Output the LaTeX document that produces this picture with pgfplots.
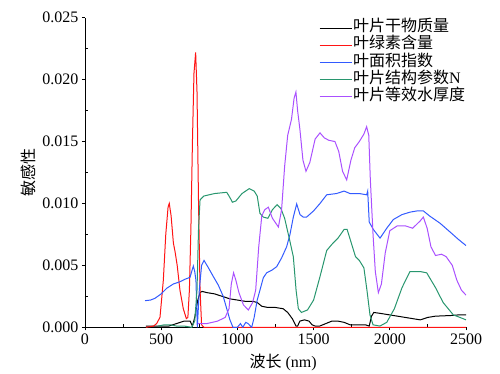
\documentclass[border=0pt]{standalone}
\usepackage{fontspec}
\setmainfont{Liberation Serif}
\newfontfamily\cjk{Noto Sans CJK SC}
\usepackage{pgfplots}
\pgfplotsset{compat=1.18}
\definecolor{cblue}{RGB}{50,90,255}
\definecolor{cgreen}{RGB}{40,150,110}
\definecolor{cpurple}{RGB}{170,80,255}
\definecolor{cred}{RGB}{255,20,20}
\begin{document}
\begin{tikzpicture}
\useasboundingbox (-85bp,-46.7bp) rectangle (415bp,327.3bp);
\begin{axis}[
  scale only axis, width=381bp, height=309.6bp,
  at={(0,0)}, anchor=south west,
  xmin=0, xmax=2500, ymin=0, ymax=0.025,
  axis x line*=bottom, axis y line*=left,
  axis line style={line width=0.9bp},
  xtick={0,500,1000,1500,2000,2500},
  ytick={0,0.005,0.01,0.015,0.02,0.025},
  extra x ticks={250,750,1250,1750,2250},
  extra y ticks={0.0025,0.0075,0.0125,0.0175,0.0225},
  extra x tick labels={}, extra y tick labels={},
  extra tick style={tick align=inside, major tick length=3.5bp},
  tick align=outside, major tick length=3bp,
  tick style={line width=0.9bp, black},
  scaled y ticks=false,
  x tick label style={/pgf/number format/.cd, set thousands separator={}},
  y tick label style={/pgf/number format/.cd, fixed, fixed zerofill, precision=3},
  /pgf/number format/assume math mode=true,
  tick label style={font=\fontsize{16bp}{17bp}\selectfont},
  every axis x label/.style={at={(axis description cs:0.52,0)}, anchor=center, yshift=-35bp},
  every axis y label/.style={at={(axis description cs:-0.149,0.5)}, rotate=90, anchor=center},
  label style={font=\fontsize{16bp}{17bp}\selectfont},
  xlabel={{\cjk 波长} (nm)},
  ylabel={{\cjk 敏感性}},
  legend style={draw=none, fill=none, at={(axis description cs:0.606,1.0)}, anchor=north west,
    font=\fontsize{16bp}{17bp}\selectfont\cjk, legend cell align=left,
    nodes={inner ysep=0pt, inner xsep=1bp, text height=12bp, text depth=5.1bp}},
  legend image code/.code={\draw[#1] (0bp,0bp) -- (32bp,0bp);},
  every axis plot/.append style={line width=1bp},
]
\addplot[black] coordinates {(400,0.0001) (500,0.0001) (550,0.0001) (600,0.0003) (650,0.0005) (690,0.0005) (705,0.0001) (720,0.0008) (740,0.0022) (755,0.0028) (768,0.0029) (800,0.0028) (850,0.0027) (900,0.0025) (950,0.0023) (1000,0.0022) (1050,0.0021) (1100,0.0021) (1130,0.0020) (1160,0.0017) (1200,0.0016) (1250,0.0016) (1300,0.0015) (1330,0.0012) (1360,0.0007) (1385,0.0001) (1395,0.0001) (1410,0.0005) (1440,0.0006) (1470,0.0005) (1490,0.0002) (1510,0.0001) (1540,0.0001) (1580,0.0003) (1620,0.0005) (1660,0.0005) (1700,0.0004) (1740,0.0002) (1800,0.0002) (1840,0.0002) (1865,0.0001) (1880,0.0009) (1895,0.0012) (1950,0.0011) (2000,0.0010) (2100,0.0008) (2200,0.0006) (2250,0.0008) (2300,0.0009) (2400,0.00095) (2450,0.001) (2500,0.001)};
\addlegendentry{叶片干物质量}
\addplot[cred] coordinates {(400,0) (450,0.0001) (470,0.0003) (492,0.0008) (514,0.0038) (530,0.0075) (545,0.0097) (553,0.0100) (565,0.0090) (580,0.0068) (591,0.0061) (605,0.0050) (623,0.0030) (645,0.0015) (665,0.0007) (675,0.0008) (685,0.0030) (695,0.0080) (705,0.0150) (715,0.0205) (726,0.0222) (735,0.0190) (745,0.0100) (755,0.0030) (765,0.0002) (780,0) (2500,0)};
\addlegendentry{叶绿素含量}
\addplot[cblue] coordinates {(394,0.00215) (430,0.0022) (459,0.00234) (500,0.0027) (536,0.00315) (580,0.0035) (623,0.00368) (660,0.0039) (689,0.00403) (700,0.0045) (711,0.00495) (720,0.0045) (728,0.0038) (737,0.0000) (750,0.0030) (765,0.0050) (781,0.0054) (810,0.0048) (842,0.0041) (875,0.0034) (907,0.0025) (930,0.0015) (951,0.0006) (971,0.0000) (1000,0.0000) (1020,0.0003) (1035,0.0000) (1055,0.0004) (1070,0.0003) (1094,0.0000) (1110,0.0008) (1130,0.0022) (1148,0.0030) (1170,0.0040) (1192,0.0044) (1225,0.0046) (1258,0.0049) (1290,0.0056) (1323,0.0065) (1345,0.0075) (1367,0.0089) (1389,0.00996) (1411,0.0091) (1432,0.0089) (1454,0.0089) (1500,0.0094) (1542,0.0100) (1586,0.0107) (1650,0.0108) (1700,0.0110) (1739,0.0108) (1800,0.0108) (1848,0.0107) (1855,0.0110) (1865,0.0085) (1892,0.0079) (1936,0.0072) (1980,0.0080) (2023,0.0087) (2080,0.0091) (2133,0.0093) (2180,0.0094) (2220,0.0094) (2260,0.0090) (2330,0.0084) (2395,0.0077) (2450,0.0071) (2500,0.0066)};
\addlegendentry{叶面积指数}
\addplot[cgreen] coordinates {(480,0.0001) (520,0.0002) (560,0.0002) (600,0.0001) (650,0.0001) (700,0.0000) (720,0.0005) (735,0.003) (745,0.008) (755,0.0103) (780,0.0106) (850,0.0108) (930,0.0109) (950,0.0105) (967,0.0101) (990,0.0102) (1030,0.0108) (1078,0.0112) (1110,0.0110) (1130,0.0106) (1148,0.0092) (1170,0.0089) (1200,0.0088) (1230,0.0095) (1260,0.0099) (1285,0.0096) (1310,0.0088) (1340,0.0072) (1367,0.0057) (1385,0.0030) (1400,0.0015) (1420,0.0012) (1460,0.0014) (1500,0.0022) (1540,0.0040) (1586,0.0062) (1620,0.0067) (1660,0.0072) (1700,0.0079) (1720,0.0079) (1750,0.0067) (1775,0.0057) (1800,0.0054) (1830,0.0048) (1850,0.0030) (1870,0.0010) (1890,0.0002) (1935,0.0001) (1980,0.0004) (2030,0.0015) (2080,0.0032) (2132,0.0045) (2200,0.0045) (2242,0.0044) (2300,0.0032) (2350,0.0020) (2417,0.0010) (2460,0.0008) (2500,0.0006)};
\addlegendentry{叶片结构参数\textrm{N}}
\addplot[cpurple] coordinates {(740,0.0003) (800,0.0003) (870,0.0005) (920,0.0008) (945,0.0015) (960,0.0035) (975,0.0044) (990,0.0038) (1010,0.0028) (1040,0.0018) (1072,0.0014) (1100,0.0020) (1120,0.0030) (1140,0.0065) (1160,0.0090) (1180,0.0095) (1203,0.0097) (1230,0.0088) (1269,0.0081) (1290,0.0095) (1310,0.0130) (1330,0.0155) (1355,0.0168) (1372,0.0185) (1384,0.0190) (1395,0.0175) (1410,0.0160) (1430,0.0135) (1450,0.0126) (1475,0.0133) (1510,0.0152) (1542,0.0157) (1570,0.0153) (1600,0.0151) (1640,0.0150) (1665,0.0142) (1690,0.0126) (1717,0.0119) (1745,0.0135) (1770,0.0145) (1800,0.0150) (1830,0.0156) (1848,0.0162) (1862,0.0155) (1872,0.0120) (1890,0.0075) (1905,0.0045) (1925,0.0028) (1945,0.0035) (1970,0.0060) (2000,0.0078) (2050,0.0082) (2100,0.0082) (2150,0.0080) (2200,0.0086) (2220,0.0089) (2245,0.0080) (2270,0.0065) (2300,0.0058) (2340,0.0059) (2370,0.0057) (2410,0.0050) (2440,0.0038) (2470,0.0030) (2500,0.0026)};
\addlegendentry{叶片等效水厚度}
\end{axis}
\end{tikzpicture}
\end{document}
